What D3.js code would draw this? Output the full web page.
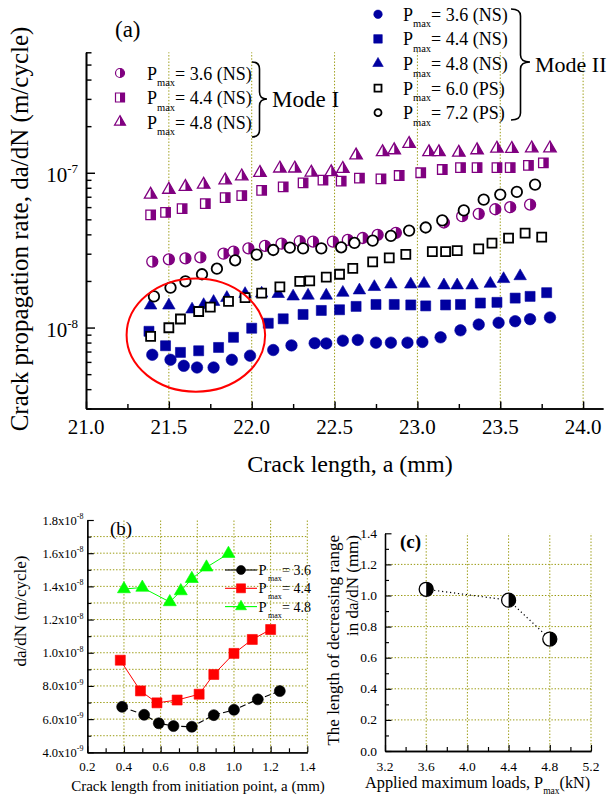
<!DOCTYPE html>
<html><head><meta charset="utf-8">
<script src="https://cdn.jsdelivr.net/npm/d3@7"></script>
<style>
body{margin:0;background:#fff}
svg{display:block}
text{font-family:"Liberation Serif","Times New Roman",serif;fill:#000}
</style>
</head><body>
<svg id="chart" width="613" height="798"></svg>
<script>
// ---------------- DATA: panel (a) ----------------
const modeI36x = [21.40,21.50,21.60,21.69,21.83,21.89,21.98,22.08,22.18,22.29,22.37,22.49,22.58,22.67,22.76,22.87,23.16,23.27,23.37,23.47,23.56,23.68];
const modeI36y = [2.67e-8,2.76e-8,2.80e-8,2.84e-8,3.00e-8,3.09e-8,3.25e-8,3.37e-8,3.48e-8,3.61e-8,3.59e-8,3.59e-8,3.68e-8,3.79e-8,3.97e-8,4.09e-8,4.77e-8,5.24e-8,5.43e-8,5.81e-8,5.99e-8,6.22e-8];
const modeI44x = [21.39,21.48,21.58,21.72,21.84,21.94,22.06,22.19,22.31,22.43,22.54,22.65,22.78,22.89,23.02,23.15,23.26,23.36,23.48,23.56,23.67,23.76];
const modeI44y = [5.35e-8,5.54e-8,5.86e-8,6.31e-8,6.91e-8,7.12e-8,7.70e-8,8.11e-8,8.61e-8,8.95e-8,8.82e-8,9.22e-8,9.14e-8,9.60e-8,1.00e-7,1.05e-7,1.08e-7,1.08e-7,1.08e-7,1.08e-7,1.115e-7,1.16e-7];
const modeI48x = [21.39,21.50,21.60,21.71,21.84,21.94,22.05,22.17,22.26,22.36,22.48,22.55,22.63,22.79,22.86,22.95,23.07,23.13,23.25,23.36,23.48,23.57,23.69,23.80];
const modeI48y = [7.23e-8,7.78e-8,8.11e-8,8.39e-8,8.95e-8,9.50e-8,1.00e-7,1.067e-7,1.067e-7,1.005e-7,1.012e-7,1.062e-7,1.296e-7,1.36e-7,1.40e-7,1.54e-7,1.36e-7,1.36e-7,1.35e-7,1.40e-7,1.435e-7,1.43e-7,1.44e-7,1.44e-7];
const modeII36x = [21.40,21.51,21.59,21.67,21.77,21.88,21.99,22.13,22.24,22.38,22.45,22.55,22.64,22.75,22.84,22.94,23.03,23.14,23.26,23.37,23.49,23.59,23.68,23.80];
const modeII36y = [6.67e-9,6.19e-9,5.66e-9,5.52e-9,5.52e-9,6.19e-9,6.58e-9,7.16e-9,7.67e-9,7.93e-9,7.90e-9,8.23e-9,8.32e-9,7.99e-9,7.99e-9,7.99e-9,8.07e-9,8.65e-9,9.6e-9,1.046e-8,1.074e-8,1.099e-8,1.133e-8,1.162e-8];
const modeII44x = [21.38,21.48,21.57,21.68,21.80,21.89,22.00,22.10,22.19,22.31,22.42,22.53,22.63,22.75,22.86,22.96,23.05,23.17,23.26,23.38,23.48,23.59,23.68,23.78];
const modeII44y = [9.46e-9,7.63e-9,6.91e-9,7.08e-9,7.44e-9,8.65e-9,9.9e-9,1.066e-8,1.139e-8,1.215e-8,1.29e-8,1.303e-8,1.37e-8,1.41e-8,1.41e-8,1.40e-8,1.38e-8,1.40e-8,1.41e-8,1.44e-8,1.455e-8,1.55e-8,1.59e-8,1.68e-8];
const modeII48x = [21.39,21.50,21.64,21.71,21.77,21.85,21.96,22.06,22.16,22.25,22.34,22.45,22.55,22.65,22.74,22.84,22.96,23.04,23.16,23.24,23.33,23.44,23.52,23.62];
const modeII48y = [1.39e-8,1.39e-8,1.31e-8,1.40e-8,1.466e-8,1.556e-8,1.65e-8,1.66e-8,1.65e-8,1.59e-8,1.61e-8,1.61e-8,1.68e-8,1.74e-8,1.83e-8,1.90e-8,1.90e-8,1.92e-8,1.875e-8,1.875e-8,1.875e-8,1.92e-8,2.06e-8,2.15e-8];
const ps60x = [21.39,21.50,21.57,21.68,21.75,21.86,21.96,22.06,22.17,22.29,22.35,22.45,22.53,22.61,22.73,22.83,22.93,23.09,23.17,23.24,23.37,23.45,23.55,23.65,23.75];
const ps60y = [8.77e-9,9.97e-9,1.136e-8,1.27e-8,1.355e-8,1.476e-8,1.563e-8,1.67e-8,1.83e-8,1.99e-8,2.0e-8,2.12e-8,2.21e-8,2.41e-8,2.66e-8,2.82e-8,2.97e-8,3.09e-8,3.09e-8,3.14e-8,3.22e-8,3.51e-8,3.78e-8,4.07e-8,3.84e-8];
const ps72x = [21.41,21.51,21.60,21.70,21.79,21.90,22.03,22.13,22.23,22.31,22.42,22.54,22.62,22.73,22.84,22.95,23.05,23.15,23.28,23.40,23.50,23.60,23.71];
const ps72y = [1.59e-8,1.81e-8,1.99e-8,2.21e-8,2.40e-8,2.72e-8,2.96e-8,3.17e-8,3.28e-8,3.25e-8,3.25e-8,3.30e-8,3.52e-8,3.64e-8,3.91e-8,4.23e-8,4.43e-8,4.92e-8,5.71e-8,6.70e-8,7.23e-8,7.52e-8,8.39e-8];
const aXTicks = [21.0,21.5,22.0,22.5,23.0,23.5,24.0];
const aXTickLabels = ["21.0","21.5","22.0","22.5","23.0","23.5","24.0"];
const aYTicks = [1e-8,1e-7];
const aYTickExp = ["-8","-7"];
const legendIText = ["= 3.6 (NS)","= 4.4 (NS)","= 4.8 (NS)"];
const legendIIText = ["= 3.6 (NS)","= 4.4 (NS)","= 4.8 (NS)","= 6.0 (PS)","= 7.2 (PS)"];
// ellipse annotation (data coords): centre x, half-width, centre y, lower edge
const circleNote = {cx:21.663, hw:0.418, cy:8.94e-9, low:3.85e-9};

// ---------------- DATA: panel (b) ----------------
const b36x = [0.39,0.51,0.59,0.67,0.77,0.89,1.00,1.13,1.25];
const b36y = [6.74e-9,6.26e-9,5.75e-9,5.58e-9,5.54e-9,6.24e-9,6.56e-9,7.19e-9,7.69e-9];
const b44x = [0.38,0.49,0.58,0.69,0.81,0.89,1.00,1.10,1.20];
const b44y = [9.55e-9,7.7e-9,6.98e-9,7.15e-9,7.5e-9,8.69e-9,9.96e-9,1.08e-8,1.14e-8];
const b48x = [0.40,0.50,0.65,0.71,0.77,0.85,0.97];
const b48y = [1.384e-8,1.393e-8,1.306e-8,1.372e-8,1.446e-8,1.515e-8,1.597e-8];
const bXTicks = [0.2,0.4,0.6,0.8,1.0,1.2,1.4];
const bXTickLabels = ["0.2","0.4","0.6","0.8","1.0","1.2","1.4"];
const bYTicks = [4e-9,6e-9,8e-9,1e-8,1.2e-8,1.4e-8,1.6e-8,1.8e-8];
const bYTickMant = ["4.0","6.0","8.0","1.0","1.2","1.4","1.6","1.8"];
const bYTickExp = ["-9","-9","-9","-8","-8","-8","-8","-8"];
const bLegendText = ["= 3.6","= 4.4","= 4.8"];

// ---------------- DATA: panel (c) ----------------
const cLoads = [3.6,4.4,4.8];
const cRange = [1.04,0.97,0.72];
const cXTicks = [3.2,3.6,4.0,4.4,4.8,5.2];
const cXTickLabels = ["3.2","3.6","4.0","4.4","4.8","5.2"];
const cYTicks = [0,0.2,0.4,0.6,0.8,1.0,1.2,1.4];
const cYTickLabels = ["0.0","0.2","0.4","0.6","0.8","1.0","1.2","1.4"];

// ---------------- helpers ----------------
const svg = d3.select("#chart");
const PURPLE = "#800080", BLUE = "#0000a0", GRID = "#9a9a10";
const defs = svg.append("defs");
defs.append("clipPath").attr("id","rightHalf").attr("clipPathUnits","userSpaceOnUse")
  .append("rect").attr("x",0).attr("y",-40).attr("width",40).attr("height",80);

const SYM = {circle:d3.symbolCircle, square:d3.symbolSquare, triangle:d3.symbolTriangle};
function symPath(shape, w){
  let area;
  if(shape==="circle") area = Math.PI*(w/2)*(w/2);
  else if(shape==="square") area = w*w;
  else area = Math.sqrt(3)/4*w*w;
  return d3.symbol().type(SYM[shape]).size(area)();
}
function drawMarker(g, shape, w, color, mode, sw){
  const p = symPath(shape, w);
  if(mode==="full"){
    g.append("path").attr("d",p).attr("fill",color).attr("stroke",color).attr("stroke-width",0.6);
  } else if(mode==="open"){
    g.append("path").attr("d",p).attr("fill","#fff").attr("stroke",color).attr("stroke-width",sw||1.8);
  } else {
    g.append("path").attr("d",p).attr("fill","#fff").attr("stroke",color).attr("stroke-width",sw||1.3);
    g.append("path").attr("d",p).attr("fill",color).attr("clip-path","url(#rightHalf)");
  }
}
function scatter(parent, xs, ys, xS, yS, shape, w, color, mode, sw){
  const data = xs.map((x,i)=>({x, y:ys[i]}));
  parent.append("g").selectAll("g").data(data).join("g")
    .attr("transform", d=>`translate(${xS(d.x)},${yS(d.y)})`)
    .each(function(){ drawMarker(d3.select(this), shape, w, color, mode, sw); });
}
function styleAxis(g, sw){
  g.selectAll(".domain").attr("stroke","#000").attr("stroke-width",sw);
  g.selectAll(".tick line").attr("stroke","#000").attr("stroke-width",sw*0.9);
  g.selectAll(".tick text").remove();
}
function brace(g, x0, x1, y0, y1, ym){
  const xm = (x0+x1)/2, r = 7;
  const d = `M${x0},${y0} Q${xm},${y0} ${xm},${y0+r} L${xm},${ym-r} Q${xm},${ym} ${x1},${ym} Q${xm},${ym} ${xm},${ym+r} L${xm},${y1-r} Q${xm},${y1} ${x0},${y1}`;
  g.append("path").attr("d",d).attr("fill","none").attr("stroke","#000").attr("stroke-width",1.6);
}

// ================= PANEL (a) =================
const gA = svg.append("g");
const xA = d3.scaleLinear().domain([21, 24.12]).range([86, 603]);
const yA = d3.scaleLog().domain([3e-9, 6e-7]).range([408.5, 52.3]);
const aBottom = 408.5, aLeft = 86;

// vertical dotted grid
gA.append("g").selectAll("line").data(aXTicks.filter(v=>v>21)).join("line")
  .attr("x1",d=>xA(d)).attr("x2",d=>xA(d)).attr("y1",aBottom).attr("y2",yA(6e-7))
  .attr("stroke",GRID).attr("stroke-width",1).attr("stroke-dasharray","1.4,1.8");

// axes
const aMinorX = d3.range(21.25, 24.1, 0.5);
const axA_x = gA.append("g").attr("transform",`translate(0,${aBottom})`)
  .call(d3.axisBottom(xA).tickValues(aXTicks).tickSize(-7).tickSizeOuter(0));
styleAxis(axA_x, 1.6);
const axA_xm = gA.append("g").attr("transform",`translate(0,${aBottom})`)
  .call(d3.axisBottom(xA).tickValues(aMinorX).tickSize(-4.5).tickSizeOuter(0));
styleAxis(axA_xm, 1.6);
const aMinorY = [];
[1e-9,1e-8,1e-7].forEach(b=>{ for(let k=2;k<=9;k++){ const v=k*b; if(v>3e-9 && v<=6e-7+1e-12) aMinorY.push(v);} });
const axA_y = gA.append("g").attr("transform",`translate(${aLeft},0)`)
  .call(d3.axisLeft(yA).tickValues(aYTicks).tickSize(-9).tickSizeOuter(0));
styleAxis(axA_y, 1.6);
const axA_ym = gA.append("g").attr("transform",`translate(${aLeft},0)`)
  .call(d3.axisLeft(yA).tickValues(aMinorY).tickSize(-5.5).tickSizeOuter(0));
styleAxis(axA_ym, 1.6);

// tick labels
gA.append("g").selectAll("text").data(aXTicks).join("text")
  .attr("x",d=>xA(d)).attr("y",433.5).attr("text-anchor","middle").attr("font-size",21)
  .text((d,i)=>aXTickLabels[i]);
const yl = gA.append("g").selectAll("text").data(aYTicks).join("text")
  .attr("x",78).attr("y",d=>yA(d)+9.5).attr("text-anchor","end").attr("font-size",21);
yl.append("tspan").text("10");
yl.append("tspan").attr("dy",-9).attr("font-size",13).text((d,i)=>aYTickExp[i]);

// axis titles
gA.append("text").attr("x",350).attr("y",472).attr("text-anchor","middle").attr("font-size",24)
  .text("Crack length, a (mm)");
gA.append("text").attr("transform","translate(28,229) rotate(-90)").attr("text-anchor","middle")
  .attr("font-size",25).text("Crack propagation rate, da/dN (m/cycle)");
gA.append("text").attr("x",115).attr("y",37).attr("font-size",23).text("(a)");

// data (drawing order matters for overlaps)
scatter(gA, modeI36x, modeI36y, xA, yA, "circle", 11, PURPLE, "half");
scatter(gA, modeI44x, modeI44y, xA, yA, "square", 9.5, PURPLE, "half");
scatter(gA, modeI48x, modeI48y, xA, yA, "triangle", 12.5, PURPLE, "half");
scatter(gA, modeII36x, modeII36y, xA, yA, "circle", 11.5, BLUE, "full");
scatter(gA, modeII44x, modeII44y, xA, yA, "square", 10, BLUE, "full");
scatter(gA, modeII48x, modeII48y, xA, yA, "triangle", 12.5, BLUE, "full");
scatter(gA, ps60x, ps60y, xA, yA, "square", 9, "#000", "open", 1.8);
scatter(gA, ps72x, ps72y, xA, yA, "circle", 10.5, "#000", "open", 1.8);

// red ellipse annotation
gA.append("ellipse")
  .attr("cx", xA(circleNote.cx)).attr("cy", yA(circleNote.cy))
  .attr("rx", xA(circleNote.cx+circleNote.hw)-xA(circleNote.cx))
  .attr("ry", yA(circleNote.low)-yA(circleNote.cy))
  .attr("fill","none").attr("stroke","#ff0000").attr("stroke-width",2);

// legend Mode I
const shapes3 = ["circle","square","triangle"];
const legI = gA.append("g");
legendIText.forEach((t,i)=>{
  const cy = 73 + i*24.5;
  const mg = legI.append("g").attr("transform",`translate(120,${cy})`);
  drawMarker(mg, shapes3[i], shapes3[i]==="triangle"?11:9, PURPLE, "half", 1.2);
  legI.append("text").attr("x",147).attr("y",cy+6.5).attr("font-size",18).text("P");
  legI.append("text").attr("x",157).attr("y",cy+13).attr("font-size",10.5).text("max");
  legI.append("text").attr("x",175).attr("y",cy+6.5).attr("font-size",18).text(t);
});
brace(legI, 252, 267, 62, 137, 99);
legI.append("text").attr("x",272).attr("y",107).attr("font-size",23).text("Mode I");

// legend Mode II
const shapes5 = ["circle","square","triangle","square","circle"];
const modes5 = ["full","full","full","open","open"];
const cols5 = [BLUE,BLUE,BLUE,"#000","#000"];
const legII = gA.append("g");
legendIIText.forEach((t,i)=>{
  const cy = 14.3 + i*24.6;
  const mg = legII.append("g").attr("transform",`translate(378,${cy})`);
  const w = shapes5[i]==="triangle"?10.5:(modes5[i]==="open"?7:8.5);
  drawMarker(mg, shapes5[i], w, cols5[i], modes5[i], 1.8);
  legII.append("text").attr("x",403).attr("y",cy+6.5).attr("font-size",18).text("P");
  legII.append("text").attr("x",413).attr("y",cy+13).attr("font-size",10.5).text("max");
  legII.append("text").attr("x",431).attr("y",cy+6.5).attr("font-size",18).text(t);
});
brace(legII, 511, 530, 9, 120, 62);
legII.append("text").attr("x",535).attr("y",72).attr("font-size",22).text("Mode II");

// ================= PANEL (b) =================
const gB = svg.append("g");
const xB = d3.scaleLinear().domain([0.2,1.4]).range([87.3,307.3]);
const yB = d3.scaleLinear().domain([4e-9,1.8e-8]).range([752.3,520]);
const bGridY = d3.range(5,18).map(k=>k*1e-9);
gB.append("g").selectAll("line").data(bGridY).join("line")
  .attr("x1",xB(0.2)).attr("x2",xB(1.4)).attr("y1",d=>yB(d)).attr("y2",d=>yB(d))
  .attr("stroke",GRID).attr("stroke-width",1).attr("stroke-dasharray","1.4,1.8");
gB.append("g").selectAll("line").data(bXTicks.slice(1)).join("line")
  .attr("x1",d=>xB(d)).attr("x2",d=>xB(d)).attr("y1",yB(4e-9)).attr("y2",yB(1.8e-8))
  .attr("stroke",GRID).attr("stroke-width",1).attr("stroke-dasharray","1.4,1.8");
const bMinorX = [0.3,0.5,0.7,0.9,1.1,1.3];
const bMinorY = [5e-9,7e-9,9e-9,1.1e-8,1.3e-8,1.5e-8,1.7e-8];
let t;
t = gB.append("g").attr("transform",`translate(0,${yB(4e-9)})`).call(d3.axisBottom(xB).tickValues(bXTicks).tickSize(-6).tickSizeOuter(0)); styleAxis(t,1.3);
t = gB.append("g").attr("transform",`translate(0,${yB(4e-9)})`).call(d3.axisBottom(xB).tickValues(bMinorX).tickSize(-4).tickSizeOuter(0)); styleAxis(t,1.3);
t = gB.append("g").attr("transform",`translate(${xB(0.2)},0)`).call(d3.axisLeft(yB).tickValues(bYTicks).tickSize(-6.5).tickSizeOuter(0)); styleAxis(t,1.3);
t = gB.append("g").attr("transform",`translate(${xB(0.2)},0)`).call(d3.axisLeft(yB).tickValues(bMinorY).tickSize(-4).tickSizeOuter(0)); styleAxis(t,1.3);

gB.append("g").selectAll("text").data(bXTicks).join("text")
  .attr("x",d=>xB(d)).attr("y",771).attr("text-anchor","middle").attr("font-size",13)
  .text((d,i)=>bXTickLabels[i]);
const byl = gB.append("g").selectAll("text").data(bYTicks).join("text")
  .attr("x",83.5).attr("y",d=>yB(d)+4.5).attr("text-anchor","end").attr("font-size",12.5);
byl.append("tspan").text((d,i)=>bYTickMant[i]+"x10");
byl.append("tspan").attr("dy",-5.5).attr("font-size",8).text((d,i)=>bYTickExp[i]);

gB.append("text").attr("x",198).attr("y",791).attr("text-anchor","middle").attr("font-size",15)
  .text("Crack length from initiation point, a (mm)");
gB.append("text").attr("transform","translate(26,611) rotate(-90)").attr("text-anchor","middle")
  .attr("font-size",17).text("da/dN (m/cycle)");
gB.append("text").attr("x",110).attr("y",535).attr("font-size",19).text("(b)");

// series lines + markers
function bSeries(xs, ys, color, dash, shape, w, lw){
  const pts = xs.map((x,i)=>[xB(x), yB(ys[i])]);
  gB.append("path").attr("d", d3.line()(pts)).attr("fill","none").attr("stroke",color)
    .attr("stroke-width",lw).attr("stroke-dasharray",dash);
  scatter(gB, xs, ys, xB, yB, shape, w, color, "full");
}
bSeries(b36x, b36y, "#000", "6,3", "circle", 11, 1.1);
bSeries(b44x, b44y, "#ff0000", null, "square", 10, 1);
bSeries(b48x, b48y, "#00ff00", null, "triangle", 13, 1);

// legend (b)
const bCols = ["#000","#ff0000","#00ff00"], bShapes=["circle","square","triangle"], bDash=["6,3",null,null];
bLegendText.forEach((txt,i)=>{
  const cy = 570 + i*18.3;
  gB.append("line").attr("x1",225).attr("x2",257).attr("y1",cy).attr("y2",cy)
    .attr("stroke",bCols[i]).attr("stroke-width",1.1);
  const mg = gB.append("g").attr("transform",`translate(241,${cy})`);
  drawMarker(mg, bShapes[i], bShapes[i]==="triangle"?11:9, bCols[i], "full");
  gB.append("text").attr("x",258.5).attr("y",cy+5).attr("font-size",14.5).text("P");
  gB.append("text").attr("x",268).attr("y",cy+11).attr("font-size",8).text("max");
  gB.append("text").attr("x",282).attr("y",cy+5).attr("font-size",14).text(txt);
});

// ================= PANEL (c) =================
const gC = svg.append("g");
const xC = d3.scaleLinear().domain([3.2,5.2]).range([385,591]);
const yC = d3.scaleLinear().domain([0,1.4]).range([751,533.3]);
gC.append("g").selectAll("line").data(cYTicks.slice(1,7)).join("line")
  .attr("x1",xC(3.2)).attr("x2",xC(5.2)).attr("y1",d=>yC(d)).attr("y2",d=>yC(d))
  .attr("stroke",GRID).attr("stroke-width",1).attr("stroke-dasharray","1.4,1.8");
gC.append("g").selectAll("line").data(cXTicks.slice(1)).join("line")
  .attr("x1",d=>xC(d)).attr("x2",d=>xC(d)).attr("y1",yC(0)).attr("y2",yC(1.4))
  .attr("stroke",GRID).attr("stroke-width",1).attr("stroke-dasharray","1.4,1.8");
const cMinorX = [3.4,3.8,4.2,4.6,5.0];
const cMinorY = [0.1,0.3,0.5,0.7,0.9,1.1,1.3];
t = gC.append("g").attr("transform",`translate(0,${yC(0)})`).call(d3.axisBottom(xC).tickValues(cXTicks).tickSize(-6).tickSizeOuter(0)); styleAxis(t,1.3);
t = gC.append("g").attr("transform",`translate(0,${yC(0)})`).call(d3.axisBottom(xC).tickValues(cMinorX).tickSize(-4).tickSizeOuter(0)); styleAxis(t,1.3);
t = gC.append("g").attr("transform",`translate(${xC(3.2)},0)`).call(d3.axisLeft(yC).tickValues(cYTicks).tickSize(-6.5).tickSizeOuter(0)); styleAxis(t,1.3);
t = gC.append("g").attr("transform",`translate(${xC(3.2)},0)`).call(d3.axisLeft(yC).tickValues(cMinorY).tickSize(-4).tickSizeOuter(0)); styleAxis(t,1.3);

gC.append("g").selectAll("text").data(cXTicks).join("text")
  .attr("x",d=>xC(d)).attr("y",771).attr("text-anchor","middle").attr("font-size",13.5)
  .text((d,i)=>cXTickLabels[i]);
gC.append("g").selectAll("text").data(cYTicks).join("text")
  .attr("x",377).attr("y",d=>yC(d)+4.5).attr("text-anchor","end").attr("font-size",13.5)
  .text((d,i)=>cYTickLabels[i]);

const cxl = gC.append("text").attr("x",365).attr("y",788).attr("font-size",16.3);
cxl.append("tspan").text("Applied maximum loads, P");
cxl.append("tspan").attr("dy",6).attr("font-size",9.5).text("max");
cxl.append("tspan").attr("dy",-6).text("(kN)");
gC.append("text").attr("transform","translate(339,535) rotate(-90)").attr("text-anchor","end")
  .attr("font-size",17).text("The length of decreasing range");
gC.append("text").attr("transform","translate(358,535) rotate(-90)").attr("text-anchor","end")
  .attr("font-size",17).text("in da/dN (mm)");
gC.append("text").attr("x",400).attr("y",548).attr("font-size",19).attr("font-weight","bold").text("(c)");

gC.append("path").attr("d", d3.line()(cLoads.map((x,i)=>[xC(x), yC(cRange[i])])))
  .attr("fill","none").attr("stroke","#000").attr("stroke-width",1.2).attr("stroke-dasharray","1.2,2.8");
scatter(gC, cLoads, cRange, xC, yC, "circle", 14, "#000", "half", 1.3);
</script>
</body></html>
